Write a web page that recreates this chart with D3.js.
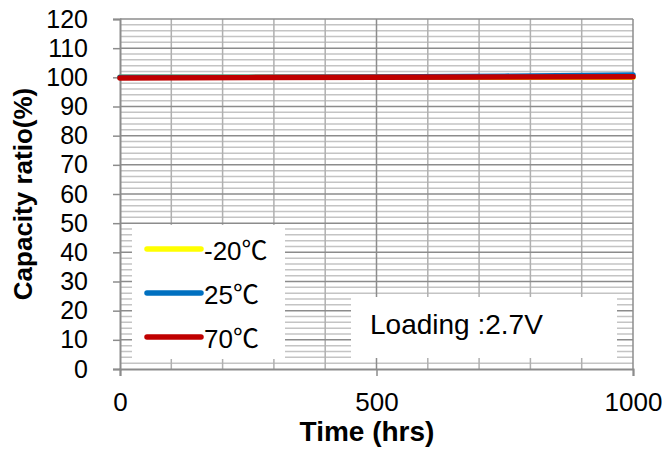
<!DOCTYPE html>
<html><head><meta charset="utf-8">
<script src="https://cdn.jsdelivr.net/npm/d3@7"></script>
<style>body{margin:0;background:#fff}svg{display:block;font-family:Arial,"Liberation Sans",sans-serif}</style>
</head><body><svg id="c" width="662" height="455"></svg>
<script>
const times = [0, 250, 500, 750, 1000];
const seriesNames = ["-20", "25", "70"];
const unit = "\u2103";
const seriesColors = ["#ffff00", "#0070c0", "#c00000"];
const valsM20 = [100, 100, 100, 100, 100];
const vals25 = [100, 100, 100.1, 100.4, 100.8];
const vals70 = [99.8, 99.9, 100, 100.1, 100.2];
const yTicks = [0,10,20,30,40,50,60,70,80,90,100,110,120];
const xTicks = [0, 500, 1000];
const annotation = "Loading :2.7V";

const svg = d3.select("#c");
const L = 120, R = 633, T = 19, B = 369;
const x = d3.scaleLinear().domain([0,1000]).range([L,R]);
const y = d3.scaleLinear().domain([0,120]).range([B,T]);

// minor horizontal grid
svg.append("g").selectAll("line").data(d3.range(0,121,2).filter(v=>v%10!==0)).join("line")
  .attr("x1",L).attr("x2",R).attr("y1",d=>y(d)).attr("y2",d=>y(d))
  .attr("stroke","#c4c4c4").attr("stroke-width",1.5);
// vertical grid
svg.append("g").selectAll("line").data(d3.range(100,1000,100)).join("line")
  .attr("x1",d=>x(d)).attr("x2",d=>x(d)).attr("y1",T).attr("y2",B)
  .attr("stroke",d=>d===500?"#8c8c8c":"#b0b0b0").attr("stroke-width",1.5);
// major horizontal grid
svg.append("g").selectAll("line").data(yTicks.filter(v=>v>0)).join("line")
  .attr("x1",L).attr("x2",R).attr("y1",d=>y(d)).attr("y2",d=>y(d))
  .attr("stroke","#8c8c8c").attr("stroke-width",1.5);
// right border
svg.append("line").attr("x1",R).attr("x2",R).attr("y1",T).attr("y2",B).attr("stroke","#8c8c8c").attr("stroke-width",1.5);

// axes
const yAxis = d3.axisLeft(y).tickValues(yTicks).tickSize(7).tickPadding(25);
const gy = svg.append("g").attr("transform",`translate(${L},0)`).call(yAxis);
const xAxis = d3.axisBottom(x).tickValues(xTicks).tickFormat(d3.format("d")).tickSize(7).tickPadding(17);
const gx = svg.append("g").attr("transform",`translate(0,${B})`).call(xAxis);
[gy,gx].forEach(g=>{
  g.select(".domain").attr("stroke","#8c8c8c").attr("stroke-width",2);
  g.selectAll(".tick line").attr("stroke","#8c8c8c").attr("stroke-width",1.5);
  g.selectAll("text").attr("font-size",25).attr("fill","#000").attr("font-family","Arial");
});
gx.selectAll("text").attr("font-size",26);

// series
const line = d3.line().x((d,i)=>x(times[i])).y(d=>y(d));
[valsM20, vals25, vals70].forEach((vals,i)=>{
  svg.append("path").datum(vals).attr("d",line).attr("fill","none")
    .attr("stroke",seriesColors[i]).attr("stroke-width",5.5).attr("stroke-linecap","round");
});

// legend
svg.append("rect").attr("x",132).attr("y",225).attr("width",153).attr("height",134).attr("fill","#fff");
seriesNames.forEach((n,i)=>{
  const cy = 249 + i*44;
  svg.append("line").attr("x1",147).attr("x2",201).attr("y1",cy).attr("y2",cy)
    .attr("stroke",seriesColors[i]).attr("stroke-width",5.5).attr("stroke-linecap","round");
  const t = svg.append("text").attr("x",204).attr("y",cy+11).attr("font-size",26);
  t.append("tspan").text(n);
  t.append("tspan").attr("font-family","'Noto Sans CJK JP'").text(unit);
});

// annotation box
svg.append("rect").attr("x",351).attr("y",297).attr("width",266).attr("height",61).attr("fill","#fff");
svg.append("text").attr("x",370).attr("y",334).attr("font-size",28).text(annotation);

// axis titles
svg.append("text").attr("x",367).attr("y",441).attr("text-anchor","middle")
  .attr("font-size",28).attr("font-weight","bold").text("Time (hrs)");
svg.append("text").attr("transform",`translate(32,${(T+B)/2}) rotate(-90)`).attr("text-anchor","middle")
  .attr("font-size",26).attr("font-weight","bold").text("Capacity ratio(%)");
</script></body></html>
